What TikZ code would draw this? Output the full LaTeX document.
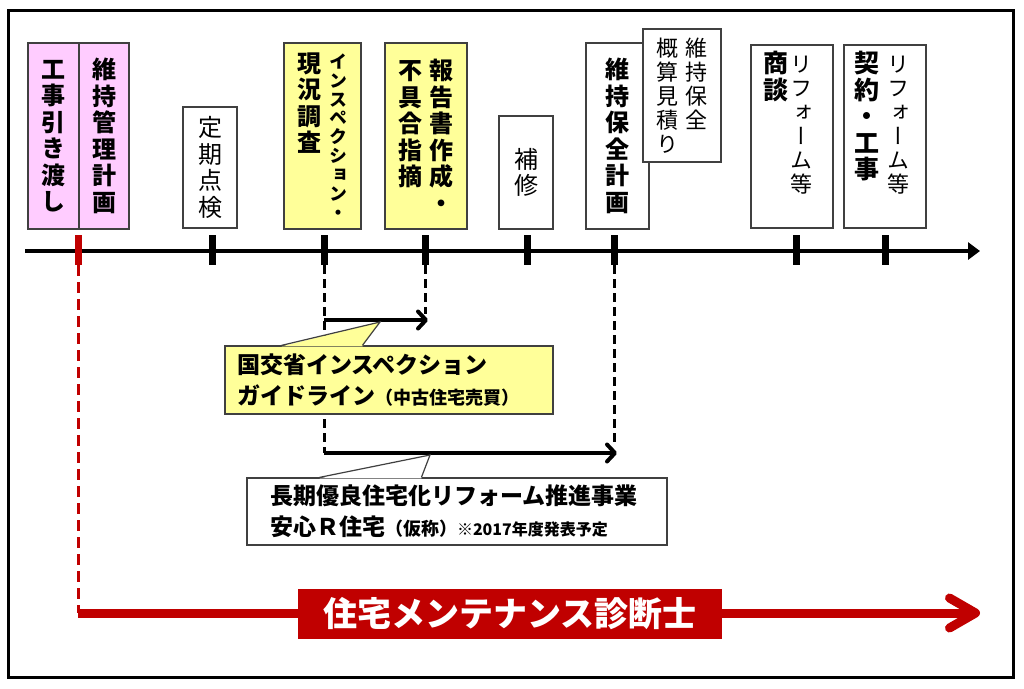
\documentclass[tikz,border=0pt]{standalone}
\usepackage{fontspec}
\setmainfont{Noto Sans CJK JP}
\newfontfamily\tate{Noto Sans CJK JP}[RawFeature=+vert]
\usepackage{tikz}
\usetikzlibrary{positioning}
\usetikzlibrary{arrows.meta}
\definecolor{pinkbox}{HTML}{FFCCFF}
\definecolor{yellowbox}{HTML}{FFFF99}
\definecolor{darkred}{HTML}{C00000}
\definecolor{edgegray}{HTML}{404040}
\newcommand\vcol[1]{\parbox[t]{1.1em}{\centering #1}}
\tikzset{
  stage/.style={draw=edgegray,line width=1.2pt,fill=white,inner sep=0pt},
  boldtate/.style={font=\tate\bfseries\fontsize{24}{26.5}\selectfont},
  thintate/.style={font=\tate\fontsize{24}{26.5}\selectfont},
  tick/.style={fill=black,minimum width=7pt,minimum height=30pt,inner sep=0pt},
  callout/.style={draw=edgegray,line width=1.2pt,align=left,inner ysep=0pt,font=\bfseries\fontsize{23}{31}\selectfont},
  calledge/.style={draw=edgegray,line width=1.2pt},
  timeline/.style={line width=4.5pt,-{Triangle[length=12pt,width=17pt]}},
  reach/.style={line width=4pt,-{Straight Barb[round,length=8pt,width=17pt]}},
  dropline/.style={line width=3pt,dash pattern=on 9pt off 5pt},
  reddrop/.style={draw=darkred,line width=3pt,dash pattern=on 11pt off 6pt},
  redarrow/.style={draw=darkred,line width=9pt,-{Straight Barb[round,length=26pt,width=30pt]}},
  badge/.style={fill=darkred,text=white,font=\bfseries\fontsize{34}{34}\selectfont,minimum width=424pt,minimum height=50pt,inner sep=0pt}
}
\begin{document}
\begin{tikzpicture}[x=1pt,y=-1pt]
        \useasboundingbox (0,0) rectangle (1024,688);
        \draw[line width=3pt] (8,10) rectangle (1013,677);

        \node[stage,boldtate,fill=pinkbox,minimum width=51pt,minimum height=186pt] (hand) at (53.5,136) {\vcol{工\\事\\引\\き\\渡\\し}};
        \node[stage,boldtate,fill=pinkbox,minimum width=50pt,minimum height=186pt] (plan) at (104,136) {\vcol{維\\持\\管\\理\\計\\画}};
        \node[stage,thintate,minimum width=54pt,minimum height=121pt] (check) at (210,167.5) {\vcol{定\\期\\点\\検}};
        \node[stage,boldtate,fill=yellowbox,minimum width=77pt,minimum height=186pt] (insp) at (322.5,136) {\vcol{現\\況\\調\\査}\hspace{6pt}\raisebox{4pt}{\fontsize{18}{18.9}\selectfont\vcol{イ\\ン\\ス\\ペ\\ク\\シ\\ョ\\ン\\・}}};
        \node[stage,boldtate,fill=yellowbox,minimum width=82pt,minimum height=186pt] (report) at (426,136) {\vcol{不\\具\\合\\指\\摘}\hspace{5pt}\vcol{報\\告\\書\\作\\成\\・}};
        \node[stage,thintate,minimum width=54pt,minimum height=113pt] (repair) at (526,172.5) {\vcol{補\\修}};
        \node[stage,boldtate,minimum width=63pt,minimum height=186pt] (keep) at (617.5,136) {\vcol{維\\持\\保\\全\\計\\画}};
        \node[stage,font=\tate\fontsize{22}{24}\selectfont,minimum width=78pt,minimum height=133pt] (estim) at (682,95.5) {\vcol{概\\算\\見\\積\\り}\hspace{5pt}\vcol{維\\持\\保\\全}};
        \node[stage,minimum width=82pt,minimum height=183pt] (talk) at (792,136.5) {};
        \node[below=7pt of talk.north,xshift=-4pt,inner sep=0pt,font=\tate] (talktext) {{\bfseries\fontsize{25}{26.5}\selectfont\vcol{商\\談}}{\fontsize{22}{24}\selectfont\vcol{リ\\フ\\ォ\\ー\\ム\\等}}};
        \node[stage,minimum width=82pt,minimum height=183pt] (deal) at (885,136.5) {};
        \node[below=7pt of deal.north,xshift=-3pt,inner sep=0pt,font=\tate] (dealtext) {{\bfseries\fontsize{25}{26.5}\selectfont\vcol{契\\約\\・\\工\\事}}\hspace{5pt}{\fontsize{22}{24}\selectfont\vcol{リ\\フ\\ォ\\ー\\ム\\等}}};

        \coordinate (start) at (25,251);
        \coordinate (end) at (980,251);
        \draw[timeline] (start) -- (end);
        \node[tick,fill=darkred] (t0) at (78,250) {};
        \node[tick] (t1) at (212,250) {};
        \node[tick] (t2) at (324,250) {};
        \node[tick] (t3) at (425,250) {};
        \node[tick] (t4) at (527,250) {};
        \node[tick] (t5) at (614,250) {};
        \node[tick] (t6) at (796,250) {};
        \node[tick] (t7) at (885,250) {};

        \coordinate (a1s) at (324,320);
        \coordinate (a1e) at (428,320);
        \coordinate (a2s) at (324,453);
        \coordinate (a2e) at (617,453);
        \coordinate (d3) at (425,314);
        \coordinate (d5) at (614,447);
        \draw[dropline] (t2.south) -- (a2s);
        \draw[dropline] (t3.south) -- (d3);
        \draw[dropline] (t5.south) -- (d5);
        \draw[reach] (a1s) -- (a1e);
        \draw[reach] (a2s) -- (a2e);

        \node[callout,fill=yellowbox,text width=304pt,inner xsep=12pt,minimum height=68pt] (guide) at (389,380) {国交省インスペクション\\ガイドライン{\fontsize{18}{31}\selectfont（中古住宅売買）}};
        \coordinate (g1tip) at (380,322);
        \path[fill=yellowbox] ([xshift=57pt,yshift=-1pt]guide.north west) -- (g1tip) -- ([xshift=138pt,yshift=-1pt]guide.north west) -- cycle;
        \draw[calledge] ([xshift=57pt]guide.north west) -- (g1tip) -- ([xshift=138pt]guide.north west);

        \node[callout,fill=white,text width=374pt,inner xsep=23pt,minimum height=67pt] (reform) at (457,511.5) {長期優良住宅化リフォーム推進事業\\安心Ｒ住宅{\fontsize{18}{31}\selectfont（仮称）}{\fontsize{16}{31}\selectfont ※2017年度発表予定}};
        \coordinate (g2tip) at (430,455);
        \path[fill=white] ([xshift=73pt,yshift=-1pt]reform.north west) -- (g2tip) -- ([xshift=175pt,yshift=-1pt]reform.north west) -- cycle;
        \draw[calledge] ([xshift=73pt]reform.north west) -- (g2tip) -- ([xshift=175pt]reform.north west);

        \coordinate (rc) at (78,613);
        \coordinate (rend) at (980,613);
        \draw[reddrop] (t0.south) -- (rc);
        \draw[redarrow] (rc) -- (rend);
        \node[badge] (diag) at (510,614) {住宅メンテナンス診断士};
\end{tikzpicture}
\end{document}
